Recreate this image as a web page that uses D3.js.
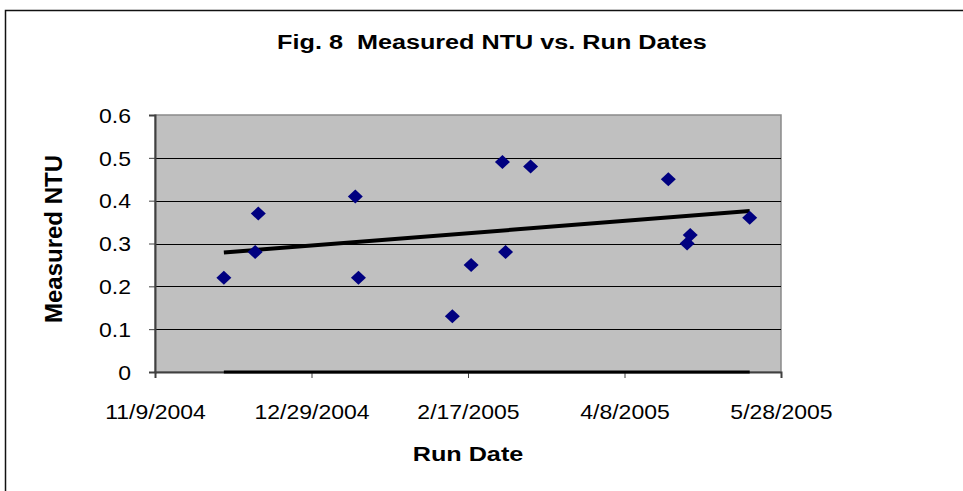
<!DOCTYPE html>
<html>
<head>
<meta charset="utf-8">
<script src="https://cdn.jsdelivr.net/npm/d3@7"></script>
<style>
  body { margin: 0; background: #fff; }
  svg { display: block; }
  text { font-family: "Liberation Sans", Arial, sans-serif; fill: #000; white-space: pre; }
</style>
</head>
<body>
<div id="chart"></div>
<script>
// run dates and measured turbidity
var runDates = ["2004-12-01", "2004-12-11", "2004-12-12", "2005-01-12", "2005-01-13",
                "2005-02-12", "2005-02-18", "2005-02-28", "2005-03-01", "2005-03-09",
                "2005-04-22", "2005-04-28", "2005-04-29", "2005-05-18"];
var ntuValues = [0.22, 0.28, 0.37, 0.41, 0.22, 0.13, 0.25, 0.49, 0.28, 0.48, 0.45, 0.30, 0.32, 0.36];

// linear trendline ends and the flat zero series
var trendDates = ["2004-12-01", "2005-05-18"];
var trendValues = [0.279, 0.376];
var zeroDates = ["2004-12-01", "2005-05-18"];
var zeroValues = [0, 0];

var xTickDates = ["2004-11-09", "2004-12-29", "2005-02-17", "2005-04-08", "2005-05-28"];
var yTickValues = [0, 0.1, 0.2, 0.3, 0.4, 0.5, 0.6];

var parse = d3.utcParse("%Y-%m-%d");
var fmtDate = d3.utcFormat("%-m/%-d/%Y");

var W = 963, H = 491;
var plot = {left: 155, right: 781, top: 115, bottom: 372};
var SX = 1.15; // tick text in the original is drawn a bit wide

var svg = d3.select("#chart").append("svg")
    .attr("width", W)
    .attr("height", H);

svg.append("rect").attr("width", W).attr("height", H).attr("fill", "#fff");

// chart frame (only left and top edges are visible)
svg.append("path")
    .attr("d", "M5.5," + H + "V10.5H" + W)
    .attr("fill", "none")
    .attr("stroke", "#111")
    .attr("stroke-width", 1.5);

var x = d3.scaleUtc()
    .domain([parse(xTickDates[0]), parse(xTickDates[xTickDates.length - 1])])
    .range([plot.left, plot.right]);

var y = d3.scaleLinear()
    .domain([0, 0.6])
    .range([plot.bottom, plot.top]);

// plot area
svg.append("rect")
    .attr("x", plot.left)
    .attr("y", plot.top)
    .attr("width", plot.right - plot.left)
    .attr("height", plot.bottom - plot.top)
    .attr("fill", "#c0c0c0")
    .attr("stroke", "#8a8a8a")
    .attr("stroke-width", 1.5);

// gridlines
svg.append("g")
    .selectAll("line")
    .data(yTickValues.filter(function(d) { return d > 0 && d < 0.6; }))
    .enter().append("line")
      .attr("x1", plot.left)
      .attr("x2", plot.right)
      .attr("y1", function(d) { return Math.round(y(d)) + 0.5; })
      .attr("y2", function(d) { return Math.round(y(d)) + 0.5; })
      .attr("stroke", "#000")
      .attr("stroke-width", 1);

// axes
var yAxis = svg.append("g")
    .attr("transform", "translate(" + plot.left + ",0)")
    .call(d3.axisLeft(y).tickValues(yTickValues).tickSize(6)
      .tickFormat(function(d) { return d === 0 ? "0" : d3.format(".1f")(d); }));

var xAxis = svg.append("g")
    .attr("transform", "translate(0," + plot.bottom + ")")
    .call(d3.axisBottom(x).tickValues(xTickDates.map(parse)).tickSize(6)
      .tickFormat(fmtDate));

[yAxis, xAxis].forEach(function(ax) {
  ax.select(".domain").attr("stroke", "#404040").attr("stroke-width", 2);
  ax.selectAll(".tick line").attr("stroke", "#404040");
  ax.selectAll(".tick text")
      .attr("font-size", 20)
      .attr("fill", "#000")
      .style("font-family", "'Liberation Sans', Arial, sans-serif");
});

yAxis.selectAll(".tick text")
    .attr("text-anchor", "end")
    .attr("x", 0)
    .attr("dy", "0.36em")
    .attr("transform", "translate(-24,0) scale(" + SX + ",1)");
xAxis.selectAll(".tick text")
    .attr("y", 0)
    .attr("dy", 0)
    .attr("transform", "translate(0,47) scale(" + SX + ",1)");

// zero series line
var line = d3.line()
    .x(function(d) { return x(d.date); })
    .y(function(d) { return y(d.value); });

svg.append("path")
    .datum(zeroDates.map(function(d, i) { return {date: parse(d), value: zeroValues[i]}; }))
    .attr("d", line)
    .attr("fill", "none")
    .attr("stroke", "#000")
    .attr("stroke-width", 3);

// trendline
svg.append("path")
    .datum(trendDates.map(function(d, i) { return {date: parse(d), value: trendValues[i]}; }))
    .attr("d", line)
    .attr("fill", "none")
    .attr("stroke", "#000")
    .attr("stroke-width", 4);

// diamonds
var pts = runDates.map(function(d, i) { return {date: parse(d), value: ntuValues[i]}; });
svg.append("g")
    .selectAll("path")
    .data(pts)
    .enter().append("path")
      .attr("d", "M0,-7L7.5,0L0,7L-7.5,0Z")
      .attr("transform", function(d) { return "translate(" + x(d.date) + "," + y(d.value) + ")"; })
      .attr("fill", "#000080");

// titles
svg.append("text")
    .attr("transform", "translate(492,49) scale(1.2,1)")
    .attr("text-anchor", "middle")
    .attr("font-size", 21)
    .attr("font-weight", "bold")
    .text("Fig. 8  Measured NTU vs. Run Dates");

svg.append("text")
    .attr("transform", "translate(468,461) scale(1.2,1)")
    .attr("text-anchor", "middle")
    .attr("font-size", 21)
    .attr("font-weight", "bold")
    .text("Run Date");

svg.append("text")
    .attr("transform", "translate(62,239) rotate(-90)")
    .attr("text-anchor", "middle")
    .attr("font-size", 24)
    .attr("font-weight", "bold")
    .text("Measured NTU");
</script>
</body>
</html>
